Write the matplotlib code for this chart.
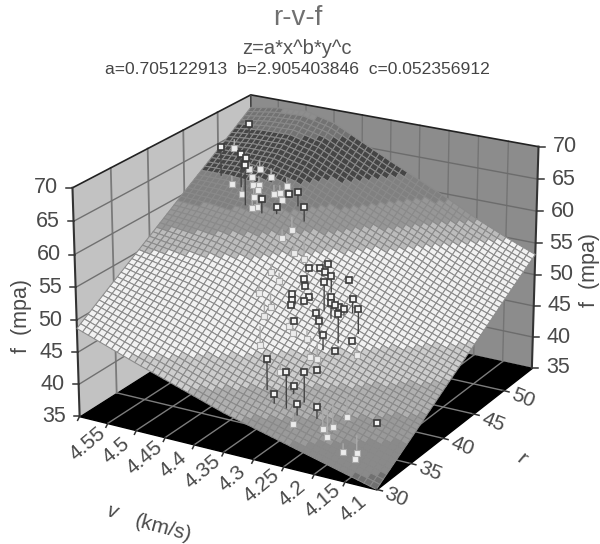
import numpy as np
import matplotlib
matplotlib.use('Agg')
import matplotlib.pyplot as plt
from matplotlib.lines import Line2D
from matplotlib.colors import to_rgba
from mpl_toolkits.mplot3d import proj3d
from mpl_toolkits.mplot3d.art3d import Poly3DCollection

plt.rcParams['font.family'] = ['Liberation Sans', 'DejaVu Sans']

v_grid = np.array([4.55, 4.5, 4.45, 4.4, 4.35, 4.3, 4.25, 4.2, 4.15, 4.1, 4.05])
r_grid = np.array([30, 35, 40, 45, 50, 55.])
f_ticks = [35, 40, 45, 50, 55, 60, 65, 70]
v_labels = ['4.55', '4.5', '4.45', '4.4', '4.35', '4.3', '4.25', '4.2', '4.15', '4.1']
r_labels = ['30', '35', '40', '45', '50']
f_table = np.array([
    [48.7, 52.6, 56.4, 60.3, 64.1, 68.0],
    [47.1, 51.4, 55.7, 60.1, 64.4, 68.7],
    [45.5, 50.2, 54.9, 59.6, 64.3, 69.0],
    [44.0, 48.8, 53.6, 58.3, 63.1, 67.9],
    [42.5, 47.1, 51.8, 56.4, 61.1, 65.7],
    [41.0, 45.5, 50.0, 54.5, 59.0, 63.5],
    [39.8, 44.1, 48.4, 52.8, 57.1, 61.4],
    [38.6, 42.7, 46.9, 51.0, 55.2, 59.3],
    [37.4, 41.3, 45.2, 49.2, 53.1, 57.0],
    [36.2, 40.0, 43.7, 47.5, 51.2, 55.0],
    [35.0, 38.6, 42.3, 45.9, 49.6, 53.2]])
band_edges = [36, 38.5, 40.5, 43, 46, 55, 57, 59.3, 62, 66.3, 68.3]
band_colors = ['#707070', '#8a8a8a', '#9a9a9a', '#b0b0b0', '#cdcdcd', '#f2f2f2',
               '#bcbcbc', '#979797', '#808080', '#454545', '#727272', '#8e8e8e']

# measured points above the fitted surface
above = """4.514,51.7,67.8 4.513,47.4,66.6 4.470,46.8,66.6 4.446,45.4,66.1 4.491,49.3,64.1 4.417,45.4,61.3
4.397,45.9,60.1 4.395,47.6,61.1 4.377,47.4,61.9 4.357,46.6,60.4 4.311,43.3,53.8 4.297,43.8,53.7 4.290,44.4,54.0
4.289,43.8,53.3 4.266,42.7,53.8 4.309,42.4,52.7 4.260,41.1,54.0 4.301,41.9,52.1
4.252,44.2,52.5 4.311,40.8,51.4 4.306,40.4,50.9 4.303,40.0,50.4 4.287,41.2,51.1 4.291,40.8,50.7 4.260,42.2,51.0
4.245,40.8,51.3 4.223,42.1,51.5 4.240,41.6,50.2 4.232,41.6,50.0 4.249,41.7,50.3 4.199,40.8,51.2 4.263,40.2,49.8
4.216,39.3,51.2 4.247,39.2,49.5 4.286,38.9,49.0 4.229,38.2,48.5 4.199,39.8,47.0 4.211,38.4,46.2 4.265,33.2,47.6
4.217,36.3,44.7 4.226,32.6,46.8 4.209,33.7,46.5 4.229,33.9,43.7 4.245,32.5,43.2 4.207,32.5,42.5 4.180,33.0,42.2
4.101,34.8,40.2"""
# measured points below the fitted surface
below = """4.535,51.2,63.9 4.486,49.3,62.5 4.469,49.5,62.6 4.473,48.6,61.8 4.444,49.1,62.1 4.495,47.5,61.0 4.462,47.9,61.1
4.454,48.1,61.2 4.449,47.6,60.8 4.470,46.9,60.2 4.449,46.9,60.1 4.425,47.9,60.4 4.417,48.1,60.5 4.409,47.7,59.9
4.414,48.9,61.2 4.435,46.2,59.2 4.441,46.0,59.1 4.375,46.3,56.6 4.377,45.0,56.1 4.350,44.4,54.7 4.341,45.2,53.4
4.362,42.1,53.0 4.345,41.8,52.1 4.360,40.1,51.0 4.340,40.1,49.2 4.340,39.2,48.5 4.296,39.1,47.8 4.287,38.8,47.2
4.325,37.3,45.6 4.264,38.9,46.7 4.246,37.7,45.1 4.241,38.4,44.4 4.190,39.8,45.1 4.270,35.5,43.9 4.216,32.7,39.1
4.183,34.1,38.0 4.172,34.6,38.1 4.174,34.0,37.0 4.161,35.7,39.1 4.127,32.1,37.2 4.117,33.2,36.5 4.107,32.0,36.7"""
above = np.array([t.split(',') for t in above.split()], float)
below = np.array([t.split(',') for t in below.split()], float)

W, H = 600, 544
fig = plt.figure(figsize=(6, 5.44), dpi=100, facecolor='white')
ax = fig.add_subplot(projection='3d', computed_zorder=False)
vlo, vhi = 4.05, 4.55
rlo, rhi = 30., 55.
zlo, zhi = 35., 70.
ax.set_xlim(vhi, vlo); ax.set_ylim(rlo, rhi); ax.set_zlim(zlo, zhi)
ax.view_init(elev=21.5835, azim=-60.0887)
ax.set_proj_type('persp', focal_length=1.0605)
ax.set_box_aspect((1.007, 1.0, 0.7224))
ax.set_axis_off()
s, tx, ty = 2795.794, 310.016, 263.084
o = ax.transLimits.transform((0, 0))
d = ax.transLimits.transform((1, 1)) - o
S = s / d[0]
ax.set_position([(tx - S * o[0]) / W, (ty - S * o[1]) / H, S / W, S / H])
M = ax.get_proj()


def topx(v, r, z):
    X, Y, _ = proj3d.proj_transform(np.asarray(v, float), np.asarray(r, float), np.asarray(z, float), M)
    return s * float(X) + tx, H - (s * float(Y) + ty)


def surf(v, r):
    iv = np.interp(v, v_grid[::-1], np.arange(len(v_grid))[::-1].astype(float))
    ir = np.interp(r, r_grid, np.arange(len(r_grid)).astype(float))
    i0 = np.clip(np.floor(iv).astype(int), 0, len(v_grid) - 2)
    j0 = np.clip(np.floor(ir).astype(int), 0, len(r_grid) - 2)
    a = iv - i0
    b = ir - j0
    return (f_table[i0, j0] * (1 - a) * (1 - b) + f_table[i0 + 1, j0] * a * (1 - b)
            + f_table[i0, j0 + 1] * (1 - a) * b + f_table[i0 + 1, j0 + 1] * a * b)


def ftext(x, y, t, **kw):
    kw.setdefault('ha', 'center')
    kw.setdefault('va', 'center')
    kw.setdefault('color', '#4a4a4a')
    fig.text(x / W, 1 - y / H, t, **kw)


def ftick(x, y, dx, dy):
    fig.add_artist(Line2D([x / W, (x + dx) / W], [1 - y / H, 1 - (y + dy) / H], color='#333333', lw=1.1,
                          transform=fig.transFigure))


ax.add_collection3d(Poly3DCollection([[(vhi, rlo, zlo), (vhi, rhi, zlo), (vhi, rhi, zhi), (vhi, rlo, zhi)]],
                                     facecolor='#c2c2c2', edgecolor='none', zorder=1))
ax.add_collection3d(Poly3DCollection([[(vhi, rhi, zlo), (vlo, rhi, zlo), (vlo, rhi, zhi), (vhi, rhi, zhi)]],
                                     facecolor='#8c8c8c', edgecolor='none', zorder=1))
ax.add_collection3d(Poly3DCollection([[(vhi, rlo, zlo), (vlo, rlo, zlo), (vlo, rhi, zlo), (vhi, rhi, zlo)]],
                                     facecolor='black', edgecolor='black', zorder=1))
for v in v_grid[1:-1]:
    ax.plot([v, v], [rlo, rhi], [zlo, zlo], color='#7c7c7c', lw=1, zorder=2)
    ax.plot([v, v], [rhi, rhi], [zlo, zhi], color='#747474', lw=1, zorder=2)
for r in r_grid[1:-1]:
    ax.plot([vlo, vhi], [r, r], [zlo, zlo], color='#7c7c7c', lw=1, zorder=2)
    ax.plot([vhi, vhi], [r, r], [zlo, zhi], color='#7a7a7a', lw=1.3, zorder=2)
for z in f_ticks[1:-1]:
    ax.plot([vhi, vhi], [rlo, rhi], [z, z], color='#707070', lw=1, zorder=2)
    ax.plot([vhi, vlo], [rhi, rhi], [z, z], color='#6c6c6c', lw=1, zorder=2)
ax.plot([vhi, vhi, vlo], [rlo, rhi, rhi], [zhi, zhi, zhi], color='#222222', lw=1.2, zorder=2)
ax.plot([vhi, vhi], [rhi, rhi], [zlo, zhi], color='#444444', lw=1.2, zorder=2)
ax.plot([vhi, vhi], [rlo, rlo], [zlo, zhi], color='#333333', lw=1.5, zorder=2)
ax.plot([vlo, vlo], [rhi, rhi], [zlo, zhi], color='#333333', lw=1.5, zorder=2)

n = 50
V, R = np.meshgrid(np.linspace(vhi, vlo, n + 1), np.linspace(rlo, rhi, n + 1), indexing='ij')
Z = surf(V, R)
rgba = np.array([to_rgba(c) for c in band_colors])
C = rgba[np.digitize(Z, band_edges)]
ax.plot_surface(V, R, Z, facecolors=C, rstride=1, cstride=1, shade=False, edgecolor='#8a8a8a', linewidth=0.75,
                zorder=3)

for arr, ec, fc, ms, lc, mew, zo in ((below, '#a8a8a8', '#ececec', 4.2, '#aaaaaa', 0.8, 4),
                                     (above, '#3a3a3a', '#f2f2f2', 5.0, '#444444', 1.2, 6)):
    for a in arr:
        ax.plot([a[0], a[0]], [a[1], a[1]], [a[2], float(surf(a[0], a[1]))], color=lc, lw=1, zorder=zo)
    ax.plot(arr[:, 0], arr[:, 1], arr[:, 2], ls='none', marker='s', ms=ms, mec=ec, mfc=fc, mew=mew, zorder=zo + 1)

for z in f_ticks:
    x, y = topx(vhi, rlo, z)
    ftick(x, y, -6, 0)
    ftext(x - 14, y, str(z), ha='right', fontsize=15.5)
    x, y = topx(vlo, rhi, z)
    ftick(x, y, 6, 0)
    ftext(x + 14, y, str(z), ha='left', fontsize=15.5)
for v, t in zip(v_grid, v_labels):
    x, y = topx(v, rlo, zlo)
    ftick(x, y, -2, 4)
    ftext(x + 8, y + 27, t, rotation=40, fontsize=15, rotation_mode='anchor')
for r, t in zip(r_grid, r_labels):
    x, y = topx(vlo, r, zlo)
    ftick(x, y, 6, 1.5)
    ftext(x + 20, y + 8, t, rotation=-22, fontsize=15, rotation_mode='anchor')

ftext(298, 18, 'r-v-f', fontsize=20, color='#707070')
ftext(297, 48, 'z=a*x^b*y^c', fontsize=14.5, color='#555555')
ftext(297, 69, 'a=0.705122913  b=2.905403846  c=0.052356912', fontsize=12.6, color='#444444')
ftext(22, 316, 'f  (mpa)', rotation=90, fontsize=15.5)
ftext(590, 270, 'f  (mpa)', rotation=90, fontsize=15.5)
ftext(112, 512, 'v', rotation=-15, fontsize=15, style='italic')
ftext(163, 528, '(km/s)', rotation=-15, fontsize=15)
ftext(522, 459, 'r', rotation=-40, fontsize=15)

fig.savefig('out.png', dpi=100)
